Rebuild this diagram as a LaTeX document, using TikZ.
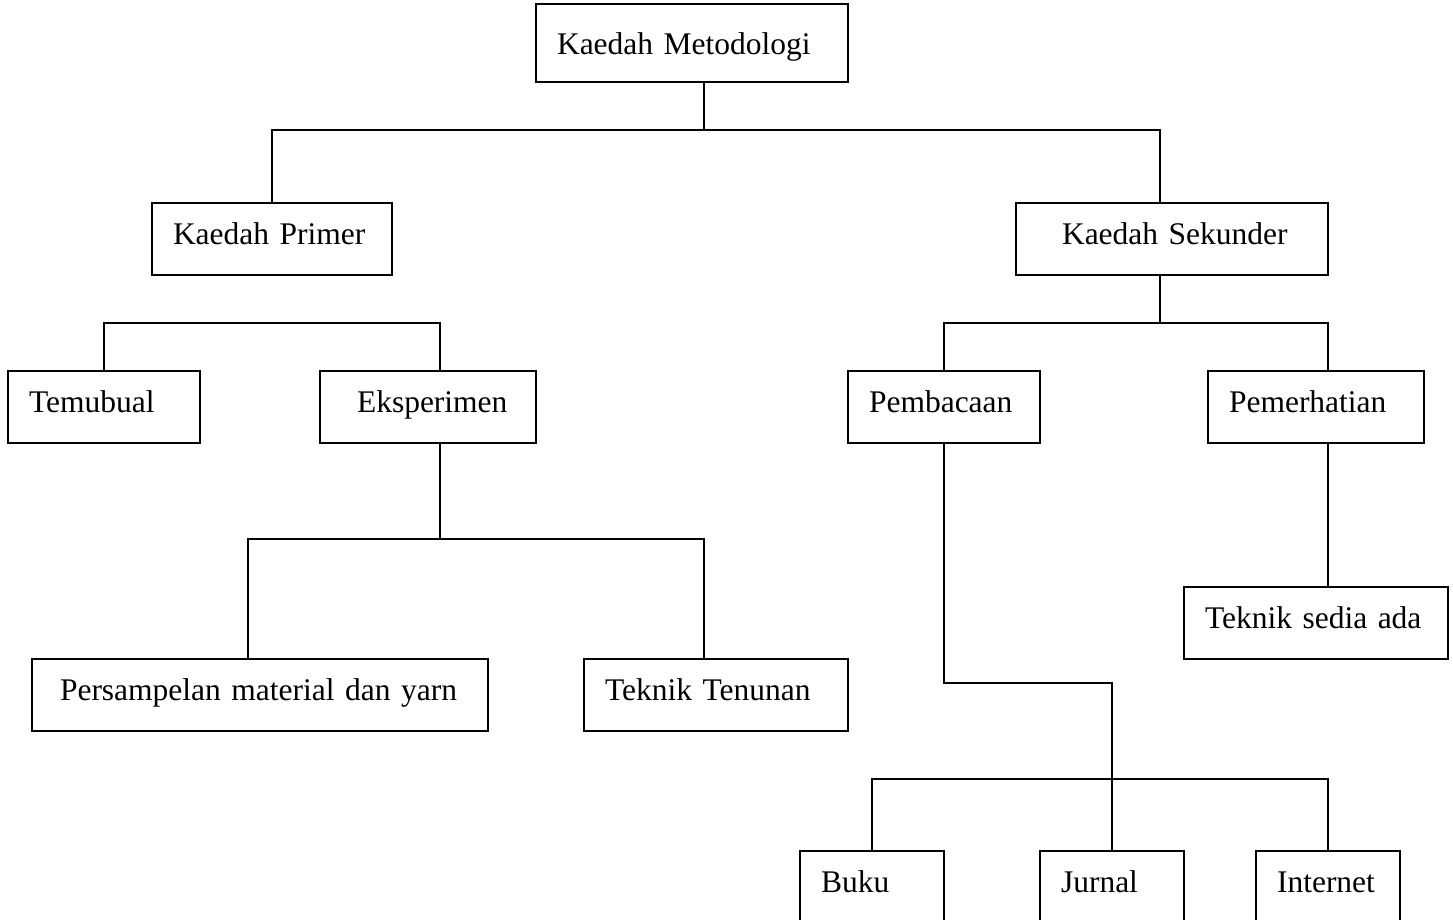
\documentclass[tikz,border=0pt]{standalone}
\usepackage{fontspec}
\setmainfont{Liberation Serif}
\usetikzlibrary{positioning, calc}

\begin{document}
\begin{tikzpicture}[
    x=1pt, y=-1pt,
    font=\fontsize{31.5}{37}\selectfont,
    line width=1.8pt,
    % Box style: width given, text set left with a small indent
    box/.style={
        rectangle, draw=black, fill=white, text=black,
        text width=#1, inner xsep=0pt, inner ysep=0pt,
        minimum height=72pt, align=left,
        text height=22pt, text depth=12pt,
        execute at begin node={\hspace*{21pt}}
    },
    % Connector style
    link/.style={draw=black, line width=1.8pt}
]
    \useasboundingbox (0,0) rectangle (1453,919);

    % =========================================================================
    % Top level
    % =========================================================================
    \node[box=312pt, minimum height=78pt, text height=28pt, text depth=6pt]
        (meto) at (692,43) {Kaedah Metodologi};

    \node[box=240pt] (primer) at (272,239) {Kaedah Primer};
    \node[box=312pt] (sekunder) at (1172,239) {\hspace*{25pt}Kaedah Sekunder};

    % =========================================================================
    % Kaedah Primer branch
    % =========================================================================
    \node[box=192pt] (temubual) at (104,407) {Temubual};
    \node[box=216pt] (eksperimen) at (428,407) {\hspace*{16pt}Eksperimen};

    \node[box=456pt] (persampelan) at (260,695) {\hspace*{7pt}Persampelan material dan yarn};
    \node[box=264pt] (tenunan) at (716,695) {Teknik Tenunan};

    % =========================================================================
    % Kaedah Sekunder branch
    % =========================================================================
    \node[box=192pt] (pembacaan) at (944,407) {Pembacaan};
    \node[box=216pt] (pemerhatian) at (1316,407) {Pemerhatian};

    \node[box=264pt] (sediaada) at (1316,623) {Teknik sedia ada};

    \node[box=144pt] (buku) at (872,887) {Buku};
    \node[box=144pt] (jurnal) at (1112,887) {Jurnal};
    \node[box=144pt] (internet) at (1328,887) {Internet};

    % =========================================================================
    % Junction points
    % =========================================================================
    \coordinate (bar1) at (704,130);
    \coordinate (bar2) at (1160,323);
    \coordinate (bar3) at (440,323);
    \coordinate (bar4) at (440,539);
    \coordinate (bend) at (1112,683);
    \coordinate (bar5) at (1112,779);

    % =========================================================================
    % Connectors
    % =========================================================================
    \draw[link] ([xshift=12pt]meto.south) -- (bar1);
    \draw[link] (primer.north) |- (bar1) -| ([xshift=-12pt]sekunder.north);

    \draw[link] ([xshift=-12pt]sekunder.south) -- (bar2);
    \draw[link] (pembacaan.north) |- (bar2) -| ([xshift=12pt]pemerhatian.north);

    \draw[link] (temubual.north) |- (bar3) -- ([xshift=12pt]eksperimen.north);

    \draw[link] ([xshift=12pt]eksperimen.south) -- (bar4);
    \draw[link] ([xshift=-12pt]persampelan.north) |- (bar4) -| ([xshift=-12pt]tenunan.north);

    \draw[link] (pembacaan.south) |- (bend) -- (jurnal.north);
    \draw[link] (buku.north) |- (bar5) -| (internet.north);

    \draw[link] ([xshift=12pt]pemerhatian.south) -- ([xshift=12pt]sediaada.north);

\end{tikzpicture}
\end{document}
